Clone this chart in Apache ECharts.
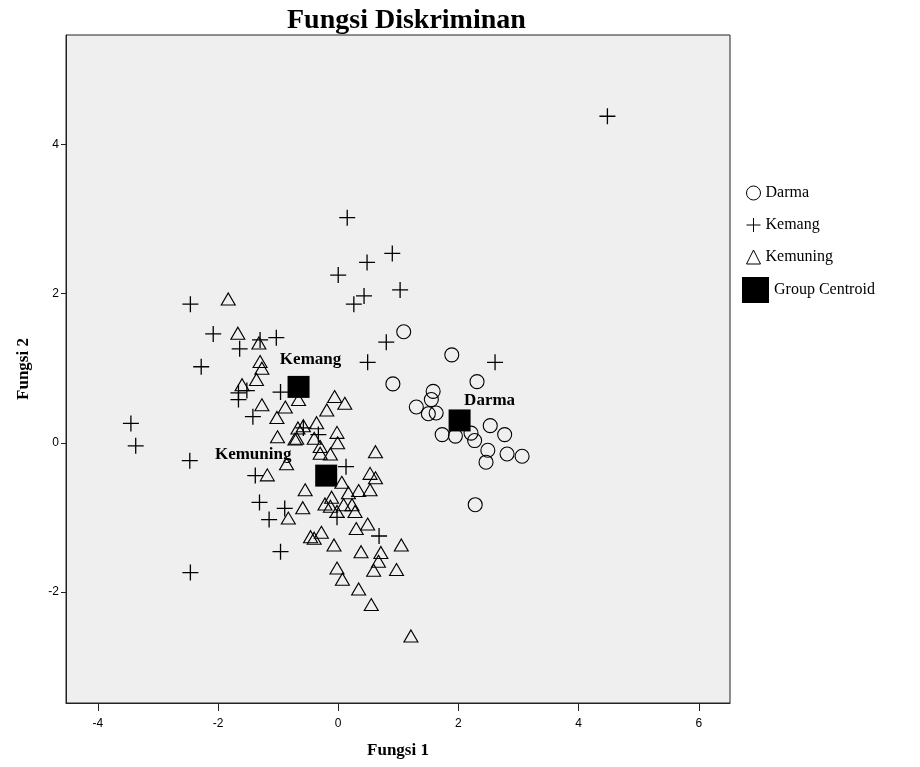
<!DOCTYPE html>
<html>
<head>
<meta charset="utf-8">
<script src="https://cdn.jsdelivr.net/npm/echarts@6/dist/echarts.min.js"></script>
<style>html,body{margin:0;padding:0;background:#fff}#c{width:920px;height:767px}</style>
</head>
<body>
<div id="c"></div>
<script>
const darma = [[1.09,1.49],[1.89,1.18],[2.31,0.82],[0.91,0.79],[1.58,0.69],[1.55,0.58],[1.30,0.48],[1.50,0.39],[1.63,0.40],[2.53,0.23],[2.77,0.11],[1.73,0.11],[1.95,0.09],[2.21,0.13],[2.27,0.03],[2.49,-0.10],[2.81,-0.15],[3.06,-0.18],[2.46,-0.26],[2.28,-0.83]];
const kemang = [[4.48,4.38],[0.15,3.02],[0.90,2.54],[0.48,2.42],[0.00,2.25],[0.43,1.97],[0.26,1.86],[1.03,2.05],[-2.46,1.86],[-2.08,1.46],[-1.64,1.26],[-1.30,1.38],[-1.03,1.41],[-2.28,1.02],[0.80,1.35],[0.49,1.08],[2.61,1.08],[-1.66,0.67],[-1.52,0.70],[-1.66,0.58],[-0.96,0.68],[-1.42,0.35],[-3.45,0.26],[-3.37,-0.04],[-2.47,-0.24],[-1.38,-0.44],[-0.33,0.11],[-0.58,0.20],[0.13,-0.32],[-1.31,-0.80],[-0.89,-0.88],[-1.15,-1.03],[-0.96,-1.46],[-2.46,-1.74],[-0.02,-1.00],[0.68,-1.25]];
const kemuning = [[-1.83,1.93],[-1.67,1.47],[-1.32,1.34],[-1.30,1.09],[-1.27,1.00],[-1.36,0.85],[-1.60,0.78],[-1.27,0.51],[-0.88,0.48],[-1.02,0.34],[-1.01,0.08],[-0.72,0.05],[-0.86,-0.28],[-1.18,-0.43],[-0.67,0.20],[-0.06,0.62],[0.11,0.53],[-0.19,0.44],[-0.66,0.58],[-0.36,0.27],[-0.58,0.23],[-0.69,0.06],[-0.40,0.06],[-0.02,0.14],[-0.01,0.00],[-0.30,-0.05],[-0.13,-0.15],[-0.30,-0.14],[0.62,-0.12],[0.53,-0.41],[0.62,-0.47],[-0.55,-0.63],[0.06,-0.53],[0.17,-0.67],[0.34,-0.64],[0.53,-0.63],[-0.59,-0.87],[-0.83,-1.01],[-0.46,-1.26],[-0.40,-1.28],[-0.11,-0.73],[-0.22,-0.82],[-0.13,-0.85],[0.09,-0.83],[0.23,-0.83],[0.28,-0.92],[-0.02,-0.92],[0.30,-1.15],[0.49,-1.09],[-0.28,-1.20],[-0.07,-1.37],[0.38,-1.46],[0.71,-1.47],[1.05,-1.37],[0.67,-1.59],[0.59,-1.71],[0.97,-1.70],[-0.02,-1.68],[0.07,-1.83],[0.34,-1.96],[0.55,-2.17],[1.21,-2.59]];
const centroidNames = ['Darma','Kemang','Kemuning'];
const centroids = [[2.02,0.30],[-0.66,0.75],[-0.20,-0.44]];
const xTicks = [-4,-2,0,2,4,6];
const yTicks = [-2,0,2,4];

const serif = '"Liberation Serif", "DejaVu Serif", serif';
const labelOffsets = [[30,-20],[12,-27],[-73,-21]];
const plus = 'path://M0,-10L0,10M-10,0L10,0';
const hollow = {color:'rgba(0,0,0,0)', borderColor:'#000', borderWidth:1.1, opacity:1};

const chart = echarts.init(document.getElementById('c'));
chart.setOption({
  animation:false,
  backgroundColor:'#fff',
  title:{text:'Fungsi Diskriminan', left:282, top:2, textStyle:{fontFamily:serif, fontWeight:'bold', fontSize:28, color:'#000'}},
  grid:{left:66, right:190, top:35, bottom:64, show:true, backgroundColor:'#efefef', borderColor:'#222', borderWidth:1},
  legend:[{
    orient:'vertical', left:741, top:180, itemWidth:14, itemHeight:14, itemGap:16,
    data:[{name:'Darma', icon:'circle'},{name:'Kemang', icon:plus},{name:'Kemuning', icon:'triangle'}],
    textStyle:{fontFamily:serif, fontSize:16, color:'#000'},
    itemStyle:{color:'rgba(0,0,0,0)', borderColor:'#000', borderWidth:1, opacity:1}
  },{
    orient:'vertical', left:737, top:272, itemWidth:27, itemHeight:26,
    data:[{name:'Group Centroid', icon:'rect'}],
    textStyle:{fontFamily:serif, fontSize:16, color:'#000'},
    itemStyle:{color:'#000', opacity:1}
  }],
  xAxis:{type:'value', min:-4.53, max:6.52, name:'Fungsi 1', nameLocation:'middle', nameGap:39,
    nameTextStyle:{fontFamily:serif, fontWeight:'bold', fontSize:17, color:'#000'},
    splitLine:{show:false},
    axisLine:{onZero:false, lineStyle:{color:'#222'}},
    axisTick:{show:true, length:8, lineStyle:{color:'#222'}, customValues:xTicks},
    axisLabel:{customValues:xTicks, fontFamily:'"Liberation Sans", Arial, sans-serif', fontSize:12, color:'#000', margin:15}
  },
  yAxis:{type:'value', min:-3.49, max:5.47, name:'Fungsi 2', nameLocation:'middle', nameGap:34,
    nameTextStyle:{fontFamily:serif, fontWeight:'bold', fontSize:17, color:'#000'},
    splitLine:{show:false},
    axisLine:{onZero:false, lineStyle:{color:'#222'}},
    axisTick:{show:true, length:5, lineStyle:{color:'#222'}, customValues:yTicks},
    axisLabel:{customValues:yTicks, fontFamily:'"Liberation Sans", Arial, sans-serif', fontSize:12, color:'#000', margin:7}
  },
  series:[
    {name:'Darma', type:'scatter', symbol:'circle', symbolSize:14, data:darma, itemStyle:hollow},
    {name:'Kemang', type:'scatter', symbol:plus, symbolSize:16, data:kemang, itemStyle:{color:'rgba(0,0,0,0)', borderColor:'#000', borderWidth:1.3, opacity:1}},
    {name:'Kemuning', type:'scatter', symbol:'triangle', symbolSize:[14,12], data:kemuning, itemStyle:hollow},
    {name:'Group Centroid', type:'scatter', symbol:'rect', symbolSize:22, z:5,
      itemStyle:{color:'#000', opacity:1},
      data:centroids.map((c,i)=>({value:c, name:centroidNames[i],
        label:{show:true, position:'inside', offset:labelOffsets[i], formatter:centroidNames[i],
          fontFamily:serif, fontWeight:'bold', fontSize:17, color:'#000'}}))
    }
  ]
});
</script>
</body>
</html>
